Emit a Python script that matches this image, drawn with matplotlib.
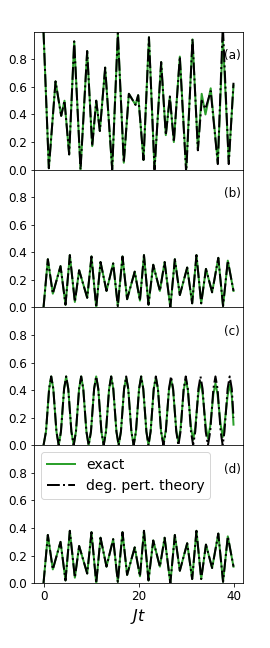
import numpy as np
import matplotlib
matplotlib.use("Agg")
import matplotlib.pyplot as plt

# panel (a)
t_a = [0, 1.12, 2.53, 3.72, 4.42, 5.4, 6.46, 7.79, 9.19, 10.25, 11.1, 11.86, 12.98,
       14.46, 15.65, 16.9, 17.97, 19.37, 19.93, 21.05, 22.2, 23.37, 24.77, 25.75,
       26.6, 27.44, 28.7, 30.04, 31.37, 32.5, 33.3, 34.1, 35.2, 36.7, 37.75, 39.0, 40.0]
exact_a = [1.0, 0.01, 0.64, 0.39, 0.50, 0.11, 0.93, 0.0, 0.86, 0.17, 0.50, 0.28, 0.74,
           0.0, 0.99, 0.05, 0.55, 0.47, 0.54, 0.07, 0.96, 0.0, 0.78, 0.25,
           0.53, 0.20, 0.82, 0.0, 0.945, 0.145, 0.55, 0.40, 0.59, 0.05, 0.96, 0.06, 0.61]
pert_a = [1.0, 0.01, 0.64, 0.39, 0.50, 0.11, 0.93, 0.0, 0.86, 0.17, 0.50, 0.28, 0.74,
          0.0, 0.99, 0.05, 0.55, 0.47, 0.54, 0.07, 0.96, 0.0, 0.78, 0.25,
          0.53, 0.20, 0.82, -0.03, 0.95, 0.14, 0.50, 0.44, 0.57, 0.04, 1.05, 0.04, 0.63]

# panel (b)
t_b = [0, 0.91, 1.96, 3.58, 4.63, 5.54, 6.6, 7.5, 9.2, 10.1, 11.1, 12.0, 13.26, 14.67,
       15.64, 16.63, 17.6, 19.2, 20.3, 21.15, 22.1, 23.1, 24.5, 25.5, 26.7, 27.65,
       28.7, 30.25, 31.3, 32.2, 33.2, 34.2, 35.5, 36.8, 37.8, 38.8, 40.0]
exact_b = [0.0, 0.35, 0.10, 0.30, 0.02, 0.38, 0.04, 0.27, 0.07, 0.37, 0.0, 0.33, 0.12, 0.32,
           0.01, 0.37, 0.06, 0.26, 0.05, 0.38, 0.02, 0.31, 0.12, 0.33, 0.0, 0.35,
           0.09, 0.29, 0.03, 0.38, 0.03, 0.28, 0.11, 0.36, 0.01, 0.34, 0.12]
pert_b = exact_b

# panel (c)
t_c = [0, 0.52, 1.18, 1.62, 2.06, 2.72, 3.2,
       3.67, 4.33, 4.77, 5.21, 5.87, 6.35,
       6.83, 7.49, 7.93, 8.37, 9.03, 9.5,
       9.99, 10.65, 11.09, 11.53, 12.19, 12.67,
       13.15, 13.81, 14.25, 14.69, 15.35, 15.82,
       16.3, 16.96, 17.4, 17.84, 18.5, 18.98,
       19.46, 20.12, 20.56, 21.0, 21.66, 22.1,
       22.55, 23.21, 23.65, 24.09, 24.75, 25.25,
       25.75, 26.41, 26.85, 27.29, 27.95, 28.4,
       28.85, 29.51, 29.95, 30.39, 31.05, 31.5,
       31.95, 32.61, 33.05, 33.49, 34.15, 34.62,
       35.1, 35.76, 36.2, 36.64, 37.3, 37.72,
       38.1, 38.76, 39.2, 39.64, 40.0]
exact_c = [0.0, 0.1, 0.41, 0.5, 0.41, 0.1, 0.0,
           0.1, 0.41, 0.5, 0.41, 0.1, 0.0,
           0.1, 0.41, 0.5, 0.41, 0.1, 0.0,
           0.1, 0.41, 0.5, 0.41, 0.1, 0.0,
           0.1, 0.41, 0.5, 0.41, 0.1, 0.0,
           0.1, 0.41, 0.49, 0.41, 0.1, 0.0,
           0.1, 0.41, 0.5, 0.41, 0.1, 0.0,
           0.1, 0.41, 0.49, 0.41, 0.1, 0.01,
           0.11, 0.40, 0.48, 0.40, 0.11, 0.02,
           0.12, 0.40, 0.48, 0.40, 0.13, 0.04,
           0.13, 0.38, 0.46, 0.38, 0.14, 0.05,
           0.14, 0.37, 0.45, 0.37, 0.15, 0.06,
           0.15, 0.36, 0.44, 0.36, 0.15]
pert_c = [0.0, 0.1, 0.41, 0.5, 0.41, 0.1, 0.0,
          0.1, 0.41, 0.5, 0.41, 0.1, 0.0,
          0.1, 0.41, 0.5, 0.41, 0.1, 0.0,
          0.1, 0.41, 0.5, 0.41, 0.1, 0.0,
          0.1, 0.41, 0.5, 0.41, 0.1, 0.0,
          0.1, 0.41, 0.5, 0.41, 0.1, 0.0,
          0.1, 0.41, 0.5, 0.41, 0.1, 0.0,
          0.1, 0.41, 0.5, 0.41, 0.1, 0.0,
          0.1, 0.41, 0.5, 0.41, 0.1, 0.0,
          0.1, 0.41, 0.5, 0.41, 0.1, 0.0,
          0.1, 0.41, 0.5, 0.41, 0.1, 0.0,
          0.1, 0.41, 0.5, 0.41, 0.1, 0.0,
          0.1, 0.41, 0.5, 0.41, 0.2]

# panel (d)
t_d = t_b
exact_d = exact_b
pert_d = exact_b

panels = [("(a)", t_a, exact_a, pert_a),
          ("(b)", t_b, exact_b, pert_b),
          ("(c)", t_c, exact_c, pert_c),
          ("(d)", t_d, exact_d, pert_d)]

plt.rcParams["font.size"] = 12
fig, axes = plt.subplots(4, 1, sharex=True, figsize=(3.75, 9), dpi=72)
fig.subplots_adjust(left=0.126, right=0.9, top=0.951, bottom=0.1, hspace=0)

for ax, (lab, t, ex, pt) in zip(axes, panels):
    ax.plot(t, ex, color="tab:green", lw=2, label="exact")
    ax.plot(t, pt, "k-.", lw=2, label="deg. pert. theory")
    ax.set_ylim(0, 1)
    ax.set_yticks([0.0, 0.2, 0.4, 0.6, 0.8])
    ax.text(38, 0.8, lab)

axes[-1].set_xlim(-2, 42)
axes[-1].set_xticks([0, 20, 40])
axes[-1].set_xlabel("$Jt$", fontsize=16)
axes[-1].legend(loc="upper left", fontsize=14)

fig.savefig("out.png", dpi=72)
